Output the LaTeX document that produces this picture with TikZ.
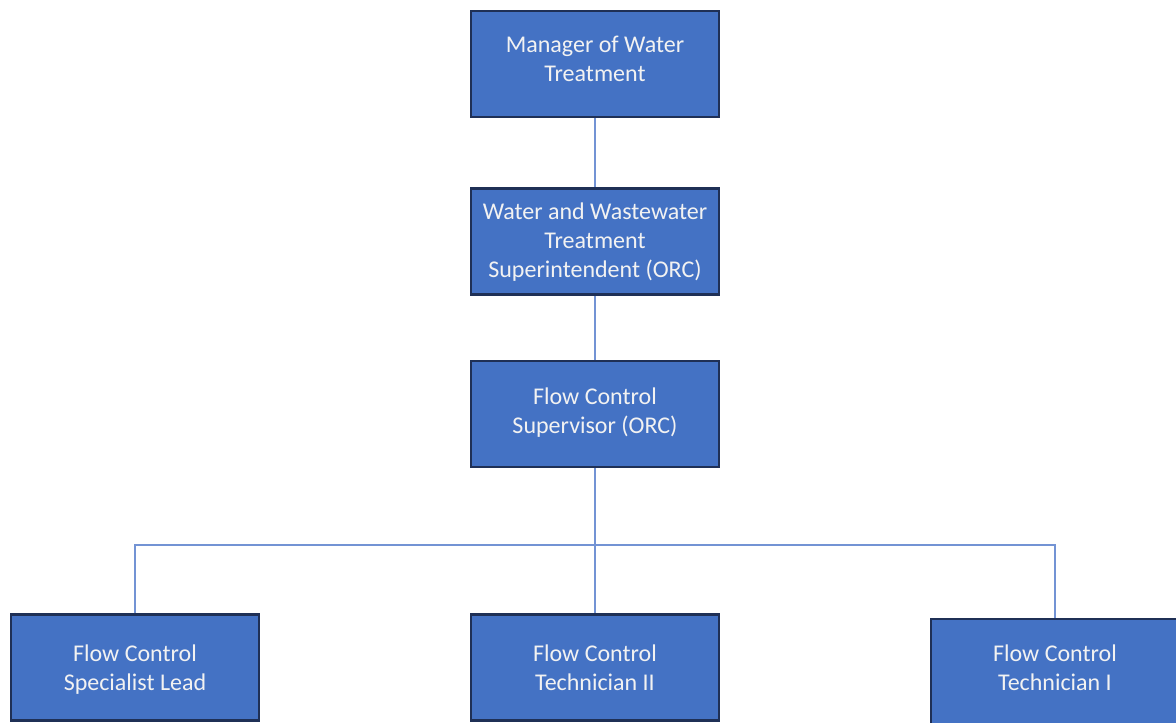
\documentclass[tikz,border=0pt]{standalone}
\usepackage{fontspec}
\setmainfont{Carlito}
\definecolor{boxfill}{HTML}{4472C4}
\definecolor{boxline}{HTML}{1F3056}
\definecolor{conn}{HTML}{7393D4}
\definecolor{txt}{HTML}{F2F2F2}
\begin{document}
\begin{tikzpicture}[x=1pt,y=-1pt,
  orgbox/.style={draw=boxline,line width=2.5pt,fill=boxfill,
    minimum width=248pt,minimum height=106pt,inner sep=0pt},
  orgtext/.style={text=txt,align=center,inner sep=0pt,
    font=\fontsize{24}{29}\selectfont},
  link/.style={draw=conn,line width=1.4pt}]
\useasboundingbox (0,0) rectangle (1176,723);
\node[orgbox] (m) at (595,64) {};
\node[orgbox] (s) at (595,241.5) {};
\node[orgbox] (v) at (595,414) {};
\node[orgbox] (b1) at (135,667.5) {};
\node[orgbox] (b2) at (595,667.5) {};
\node[orgbox] (b3) at (1055,672) {};
\node[orgtext] (mt) at (595,58.5) {Manager of Water\\Treatment};
\node[orgtext] (st) at (595,242) {Water and Wastewater\\Treatment\\Superintendent (ORC)};
\node[orgtext] (vt) at (595,412.5) {Flow Control\\Supervisor (ORC)};
\node[orgtext] (b1t) at (135,669.5) {Flow Control\\Specialist Lead};
\node[orgtext] (b2t) at (595,667.5) {Flow Control\\Technician II};
\node[orgtext] (b3t) at (1055,667.5) {Flow Control\\Technician I};
\coordinate (j) at (595,545);
\draw[link] (m.south) -- (s.north);
\draw[link] (s.south) -- (v.north);
\draw[link] (v.south) -- (j);
\draw[link] (j) -- (b2.north);
\draw[link] (b1.north) -- (b1.north |- j) -- (b3.north |- j) -- (b3.north);
\end{tikzpicture}
\end{document}
